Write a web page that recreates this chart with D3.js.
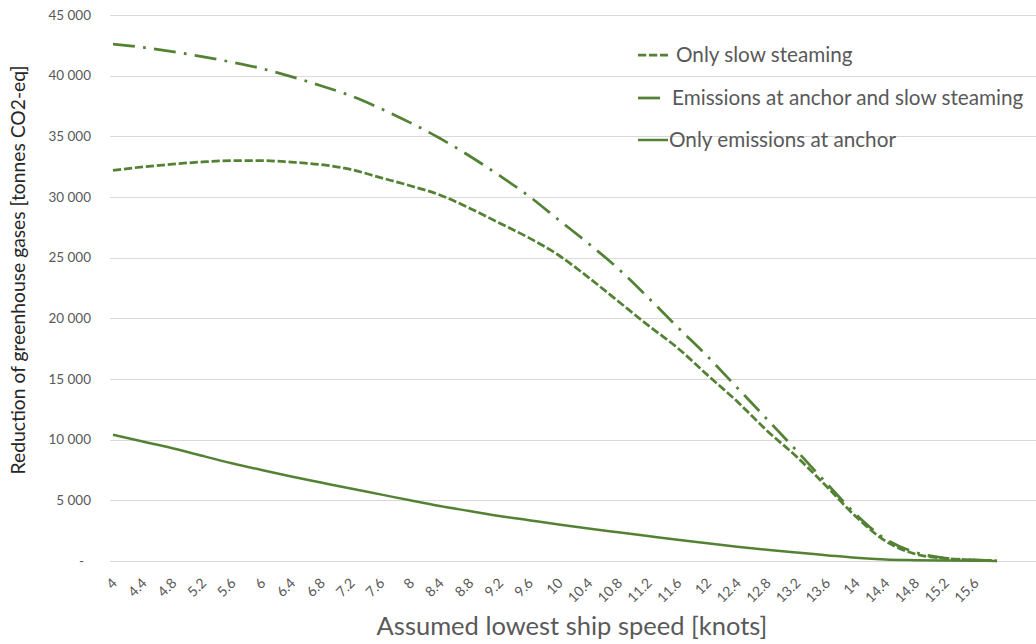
<!DOCTYPE html>
<html>
<head>
<meta charset="utf-8">
<script src="https://cdn.jsdelivr.net/npm/d3@7"></script>
<style>
  body { margin: 0; background: #fff; }
  svg text { font-family: Lato, "Open Sans", sans-serif; }
</style>
</head>
<body>
<div id="chart"></div>
<script>
// Values (every 0.4 knots, plus the last point)
var speeds = [4, 4.4, 4.8, 5.2, 5.6, 6, 6.4, 6.8, 7.2, 7.6, 8, 8.4, 8.8, 9.2, 9.6, 10,
  10.4, 10.8, 11.2, 11.6, 12, 12.4, 12.8, 13.2, 13.6, 14, 14.4, 14.8, 15.2, 15.6, 15.9];

var slowSteaming = [32200, 32480, 32710, 32890, 33000, 33000, 32870, 32670, 32270, 31600,
  30930, 30170, 29080, 27860, 26630, 25200, 23370, 21410, 19440, 17560, 15340, 13160,
  10760, 8610, 6180, 3660, 1640, 580, 220, 80, 20];

var anchorAndSlow = [42600, 42330, 41980, 41570, 41110, 40590, 39920, 39170, 38340, 37300,
  36130, 34840, 33380, 31780, 30070, 28110, 26170, 24100, 21730, 19280, 16880, 14300,
  11710, 9110, 6440, 3850, 1800, 720, 240, 90, 20];

var anchorOnly = [10400, 9850, 9300, 8670, 8060, 7500, 6970, 6470, 5970, 5490, 5000, 4530,
  4120, 3710, 3360, 3010, 2680, 2370, 2060, 1750, 1460, 1180, 930, 700, 480, 260, 120, 70,
  40, 20, 0];

var xTickLabels = ["4", "4.4", "4.8", "5.2", "5.6", "6", "6.4", "6.8", "7.2", "7.6", "8",
  "8.4", "8.8", "9.2", "9.6", "10", "10.4", "10.8", "11.2", "11.6", "12", "12.4", "12.8",
  "13.2", "13.6", "14", "14.4", "14.8", "15.2", "15.6"];

var yTicks = [0, 5000, 10000, 15000, 20000, 25000, 30000, 35000, 40000, 45000];

var seriesNames = ["Only slow steaming", "Emissions at anchor and slow steaming",
  "Only emissions at anchor"];

// Plot dimensions
var width = 1036;
var height = 644;
var green = "#548235";
var lineWidth = 2.75;

var svg = d3.select("#chart")
  .append("svg")
  .attr("width", width)
  .attr("height", height);

var x = d3.scaleLinear().domain([4, 15.9]).range([113, 997]);
var y = d3.scaleLinear().domain([0, 45000]).range([561, 15]);

var fmt = d3.formatLocale({decimal: ".", thousands: " ", grouping: [3], currency: ["", ""]})
  .format(",d");

// Horizontal gridlines
svg.append("g")
  .selectAll("line")
  .data(yTicks)
  .enter()
  .append("line")
  .attr("x1", 110)
  .attr("x2", width)
  .attr("y1", function(d) { return Math.round(y(d)) + 0.5; })
  .attr("y2", function(d) { return Math.round(y(d)) + 0.5; })
  .attr("stroke", "#d9d9d9")
  .attr("stroke-width", 1);

// Y tick labels
svg.append("g")
  .selectAll("text")
  .data(yTicks)
  .enter()
  .append("text")
  .attr("x", function(d) { return d === 0 ? 84 : 91; })
  .attr("y", function(d) { return y(d); })
  .attr("dy", "0.35em")
  .attr("text-anchor", "end")
  .attr("font-size", 13.5)
  .attr("fill", "#595959")
  .text(function(d) { return d === 0 ? "-" : fmt(d); });

// X tick labels, rotated
svg.append("g")
  .selectAll("text")
  .data(xTickLabels)
  .enter()
  .append("text")
  .attr("transform", function(d) {
    return "translate(" + (x(+d) + 5) + ",584) rotate(-45)";
  })
  .attr("text-anchor", "end")
  .attr("font-size", 14)
  .attr("fill", "#595959")
  .text(function(d) { return d; });

// Axis titles
svg.append("text")
  .attr("x", 572)
  .attr("y", 635)
  .attr("text-anchor", "middle")
  .attr("font-size", 25.5)
  .attr("fill", "#595959")
  .text("Assumed lowest ship speed [knots]");

svg.append("text")
  .attr("transform", "translate(25,270) rotate(-90)")
  .attr("text-anchor", "middle")
  .attr("font-size", 19.3)
  .attr("fill", "#262626")
  .text("Reduction of greenhouse gases [tonnes CO2-eq]");

// Lines
var dashes = [(3 * lineWidth) + "," + lineWidth,
  (8 * lineWidth) + "," + (3 * lineWidth) + "," + lineWidth + "," + (3 * lineWidth),
  null];
var widths = [lineWidth, lineWidth, 2.5];
var allSeries = [slowSteaming, anchorAndSlow, anchorOnly];

var line = d3.line()
  .x(function(d, i) { return x(speeds[i]); })
  .y(function(d) { return y(d); })
  .curve(d3.curveMonotoneX);

svg.append("g")
  .selectAll("path")
  .data(allSeries)
  .enter()
  .append("path")
  .attr("d", line)
  .attr("fill", "none")
  .attr("stroke", green)
  .attr("stroke-width", function(d, i) { return widths[i]; })
  .attr("stroke-dasharray", function(d, i) { return dashes[i]; });

// Legend
var legendRows = [55, 98, 140];
var legendTextX = [676, 672, 669];
var legend = svg.append("g")
  .selectAll("g")
  .data(seriesNames)
  .enter()
  .append("g");

legend.append("line")
  .attr("x1", 638)
  .attr("x2", 668)
  .attr("y1", function(d, i) { return legendRows[i]; })
  .attr("y2", function(d, i) { return legendRows[i]; })
  .attr("stroke", green)
  .attr("stroke-width", function(d, i) { return widths[i]; })
  .attr("stroke-dasharray", function(d, i) { return dashes[i]; });

legend.append("text")
  .attr("x", function(d, i) { return legendTextX[i]; })
  .attr("y", function(d, i) { return legendRows[i]; })
  .attr("dy", "0.35em")
  .attr("font-size", 20.7)
  .attr("fill", "#595959")
  .text(function(d) { return d; });
</script>
</body>
</html>
